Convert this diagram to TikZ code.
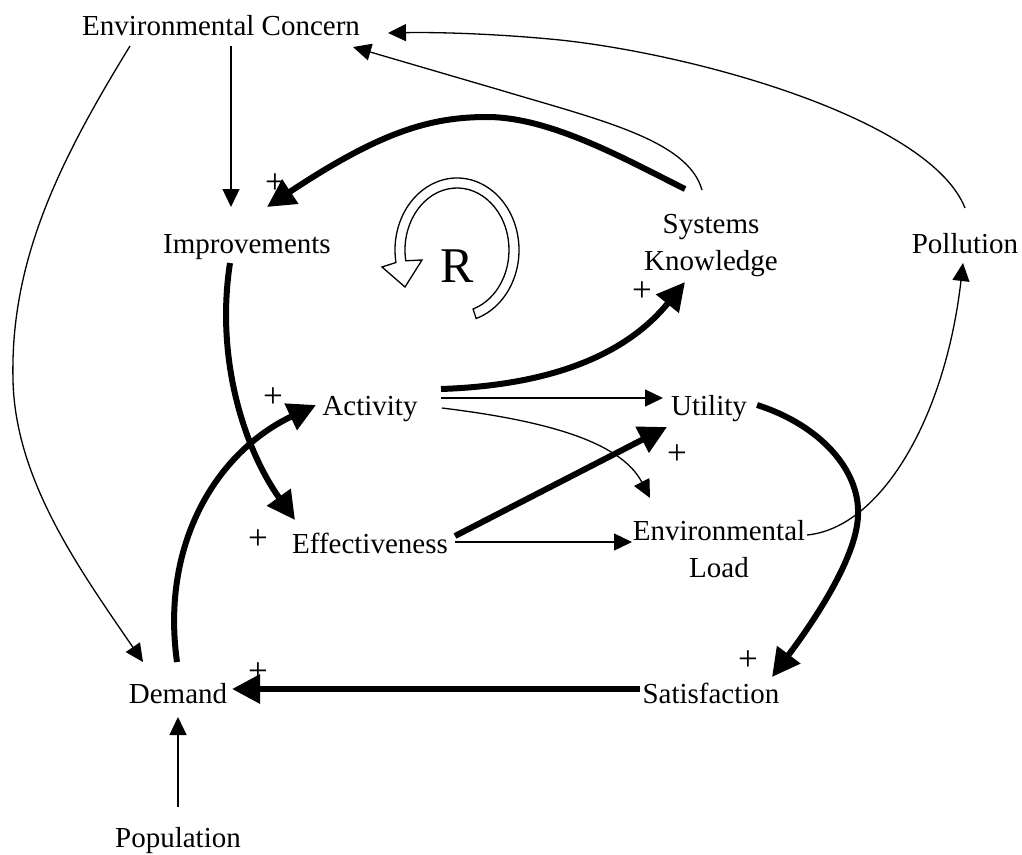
\documentclass[tikz,border=0pt]{standalone}
\usepackage{fontspec}
\setmainfont{Liberation Serif}
\usetikzlibrary{arrows.meta}
\begin{document}
\begin{tikzpicture}[x=1pt,y=-1pt,
  lbl/.style={font=\fontsize{29}{37}\selectfont, inner sep=0pt, anchor=base, align=center},
  pls/.style={font=\fontsize{35}{37}\selectfont, inner sep=0pt},
  weaklink/.style={line width=1.3pt, -{Triangle[length=18pt,width=17pt]}},
  stronglink/.style={line width=6pt, -{Triangle[length=28pt,width=28pt]}},
]
\useasboundingbox[fill=white] (0,0) rectangle (1022,854);

% variables (base anchor = baseline of the last line)
\node[lbl] (ec)  at (221,35)  {Environmental Concern};
\node[lbl] (imp) at (247,253) {Improvements};
\node[lbl] (sk)  at (711,270) {Systems\\Knowledge};
\node[lbl] (pol) at (965,253) {Pollution};
\node[lbl] (act) at (370,415) {Activity};
\node[lbl] (uti) at (709,415) {Utility};
\node[lbl] (eff) at (370,553) {Effectiveness};
\node[lbl] (el)  at (719,577) {Environmental\\Load};
\node[lbl] (dem) at (178,703) {Demand};
\node[lbl] (sat) at (711,703) {Satisfaction};
\node[lbl] (pop) at (178,847) {Population};

% loop marker
\node[font=\fontsize{50}{50}\selectfont, inner sep=0pt, anchor=base] (loopR) at (457,282) {R};
\draw[line width=1.3pt, fill=white]
  ({457+62*cos(72)},{250+72*sin(72)})
  arc[start angle=72, end angle=-190, x radius=62, y radius=72]
  -- (382,267) -- (405,287) -- (422,260)
  -- ({457+52*cos(-190)},{250+62*sin(-190)})
  arc[start angle=-190, end angle=72, x radius=52, y radius=62]
  -- cycle;

% polarity signs
\node[pls] (p1) at (275,184) {+};
\node[pls] (p2) at (642,292) {+};
\node[pls] (p3) at (273,398) {+};
\node[pls] (p4) at (258,540) {+};
\node[pls] (p5) at (677,455) {+};
\node[pls] (p6) at (748,661) {+};
\node[pls] (p7) at (258,673) {+};

% thin links
\draw[weaklink] ([shift={(10,11)}]ec.base) -- ([shift={(-16,-46)}]imp.base);
\draw[weaklink] ([shift={(-91,11)}]ec.base)
  .. controls (60,160) and (10,260) .. (13,380)
  .. controls (15,480) and (80,570) .. ([shift={(-35,-41)}]dem.base);
\draw[weaklink] ([shift={(-9,-80)}]sk.base)
  .. controls (688,140) and (600,120) .. (500,90)
  -- ([shift={(132,12)}]ec.base);
\draw[weaklink] ([shift={(0,-45)}]pol.base)
  .. controls (930,120) and (700,55) .. (560,40)
  .. controls (500,34) and (440,32) .. ([shift={(167,-2)}]ec.base);
\draw[weaklink] ([shift={(71,-17)}]act.base) -- ([shift={(-46,-17)}]uti.base);
\draw[weaklink] ([shift={(72,-7)}]act.base)
  .. controls (540,420) and (620,440) .. ([shift={(-69,-79)}]el.base);
\draw[weaklink] ([shift={(85,-11)}]eff.base) -- ([shift={(-87,-35)}]el.base);
\draw[weaklink] ([shift={(88,-42)}]el.base)
  .. controls (880,528) and (945,420) .. ([shift={(-2,10)}]pol.base);
\draw[weaklink] ([shift={(0,-40)}]pop.base) -- ([shift={(0,14)}]dem.base);

% thick links
\draw[stronglink] ([shift={(-26,-81)}]sk.base)
  .. controls (625,159) and (550,117) .. (487,117)
  .. controls (430,117) and (380,132) .. ([shift={(20,-46)}]imp.base);
\draw[stronglink] ([shift={(-17,10)}]imp.base)
  .. controls (215,360) and (245,450) .. ([shift={(-75,-33)}]eff.base);
\draw[stronglink] ([shift={(-1,-41)}]dem.base)
  .. controls (160,540) and (220,450) .. ([shift={(-54,-10)}]act.base);
\draw[stronglink] ([shift={(71,-26)}]act.base)
  .. controls (560,385) and (630,350) .. ([shift={(-26,12)}]sk.base);
\draw[stronglink] ([shift={(85,-17)}]eff.base) -- ([shift={(-42,12)}]uti.base);
\draw[stronglink] ([shift={(48,-10)}]uti.base)
  .. controls (820,425) and (860,470) .. (858,515)
  .. controls (857,560) and (808,629) .. ([shift={(61,-26)}]sat.base);
\draw[stronglink] ([shift={(-71,-14)}]sat.base) -- ([shift={(54,-14)}]dem.base);
\end{tikzpicture}
\end{document}
